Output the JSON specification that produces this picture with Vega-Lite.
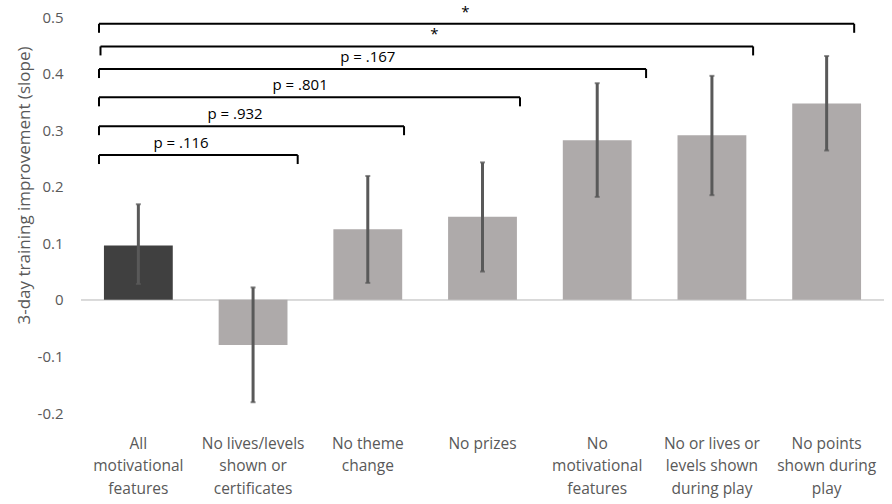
{
  "$schema": "https://vega.github.io/schema/vega-lite/v6.json",
  "width": 803,
  "height": 396,
  "autosize": "none",
  "padding": {"left": 81, "top": 17, "right": 8, "bottom": 91},
  "background": "white",
  "config": {"view": {"stroke": null}, "font": "Open Sans"},
  "datasets": {
    "bars": [
      {"condition": "All|motivational|features", "type": "full", "slope": 0.096, "lo": 0.028, "hi": 0.169},
      {"condition": "No lives/levels|shown or|certificates", "type": "reduced", "slope": -0.080, "lo": -0.181, "hi": 0.022},
      {"condition": "No theme|change", "type": "reduced", "slope": 0.125, "lo": 0.030, "hi": 0.219},
      {"condition": "No prizes", "type": "reduced", "slope": 0.147, "lo": 0.050, "hi": 0.243},
      {"condition": "No|motivational|features", "type": "reduced", "slope": 0.282, "lo": 0.182, "hi": 0.383},
      {"condition": "No or lives or|levels shown|during play", "type": "reduced", "slope": 0.291, "lo": 0.185, "hi": 0.396},
      {"condition": "No points|shown during|play", "type": "reduced", "slope": 0.347, "lo": 0.264, "hi": 0.431}
    ],
    "brackets": [
      {"label": "p = .116", "from": 0.157, "to": 1.889, "y": 0.256, "lx": 0.872},
      {"label": "p = .932", "from": 0.157, "to": 2.816, "y": 0.307, "lx": 1.343},
      {"label": "p = .801", "from": 0.157, "to": 3.827, "y": 0.358, "lx": 1.91},
      {"label": "p = .167", "from": 0.157, "to": 4.926, "y": 0.408, "lx": 2.5},
      {"label": "*", "from": 0.17, "to": 5.859, "y": 0.448, "lx": 3.08},
      {"label": "*", "from": 0.157, "to": 6.74, "y": 0.488, "lx": 3.35}
    ]
  },
  "layer": [
    {
      "data": {"name": "bars"},
      "layer": [
        {
          "mark": {"type": "rule", "color": "#d9d9d9", "strokeWidth": 1},
          "encoding": {"y": {"datum": 0, "type": "quantitative"}}
        },
        {
          "mark": {"type": "bar"},
          "encoding": {
            "x": {
              "field": "condition", "type": "nominal", "sort": null,
              "scale": {"paddingInner": 0.4, "paddingOuter": 0.2},
              "axis": {
                "title": null, "labelAngle": 0, "domain": false, "ticks": false,
                "labelPadding": 23, "labelFontSize": 15.5, "labelColor": "#595959",
                "labelExpr": "split(datum.label, '|')", "labelLineHeight": 22.5,
                "labelLimit": 200
              }
            },
            "y": {
              "field": "slope", "type": "quantitative",
              "title": "3-day training improvement (slope)",
              "scale": {"domain": [-0.2, 0.5], "nice": false, "zero": false},
              "axis": {
                "title": "3-day training improvement (slope)",
                "values": [-0.2, -0.1, 0, 0.1, 0.2, 0.3, 0.4, 0.5],
                "labelExpr": "toString(datum.value)",
                "domain": false, "ticks": false, "grid": false,
                "labelPadding": 18, "labelFontSize": 15, "labelColor": "#595959",
                "titleFontSize": 17, "titleFontWeight": "normal", "titleColor": "#595959",
                "titleX": -48, "titleY": 168, "titleAngle": -90,
                "titleAlign": "center", "titleBaseline": "bottom"
              }
            },
            "color": {
              "field": "type", "type": "nominal",
              "scale": {"domain": ["full", "reduced"], "range": ["#404040", "#AEAAAA"]},
              "legend": null
            }
          }
        },
        {
          "mark": {"type": "rule", "color": "#595959", "strokeWidth": 3},
          "encoding": {
            "x": {"field": "condition", "type": "nominal", "sort": null},
            "y": {"field": "lo", "type": "quantitative", "title": "3-day training improvement (slope)"},
            "y2": {"field": "hi"}
          }
        },
        {
          "mark": {"type": "tick", "color": "#595959", "thickness": 2, "size": 5},
          "encoding": {
            "x": {"field": "condition", "type": "nominal", "sort": null},
            "y": {"field": "hi", "type": "quantitative", "title": "3-day training improvement (slope)"}
          }
        },
        {
          "mark": {"type": "tick", "color": "#595959", "thickness": 2, "size": 5},
          "encoding": {
            "x": {"field": "condition", "type": "nominal", "sort": null},
            "y": {"field": "lo", "type": "quantitative", "title": "3-day training improvement (slope)"}
          }
        }
      ]
    },
    {
      "data": {"name": "brackets"},
      "layer": [
        {
          "mark": {"type": "rule", "color": "black", "strokeWidth": 2},
          "encoding": {
            "x": {"field": "from", "type": "quantitative", "scale": {"domain": [0, 7], "nice": false, "zero": false}, "axis": null},
            "x2": {"field": "to"},
            "y": {"field": "y", "type": "quantitative", "title": "3-day training improvement (slope)"}
          }
        },
        {
          "transform": [{"fold": ["from", "to"], "as": ["end", "xpos"]}],
          "mark": {"type": "rule", "color": "black", "strokeWidth": 2, "y2Offset": 9},
          "encoding": {
            "x": {"field": "xpos", "type": "quantitative", "scale": {"domain": [0, 7], "nice": false, "zero": false}, "axis": null},
            "y": {"field": "y", "type": "quantitative", "title": "3-day training improvement (slope)"},
            "y2": {"field": "y"}
          }
        },
        {
          "mark": {"type": "text", "dy": -7, "baseline": "alphabetic", "fontSize": 15, "color": "black"},
          "encoding": {
            "x": {"field": "lx", "type": "quantitative", "scale": {"domain": [0, 7], "nice": false, "zero": false}, "axis": null},
            "y": {"field": "y", "type": "quantitative", "title": "3-day training improvement (slope)"},
            "text": {"field": "label"}
          }
        }
      ]
    }
  ],
  "resolve": {"scale": {"x": "independent"}}
}
